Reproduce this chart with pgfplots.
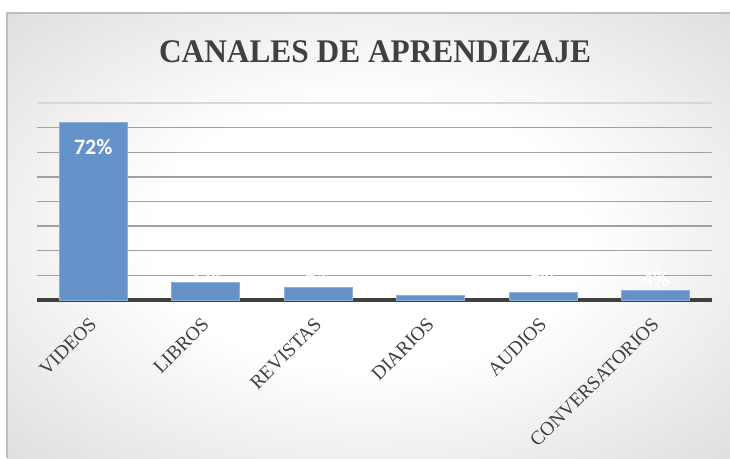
\documentclass[border=0pt]{standalone}
\usepackage{pgfplots}
\pgfplotsset{compat=1.18}
\usepackage{fontspec}
\setmainfont{Liberation Serif}
\newfontfamily\labelfont{Carlito}
\definecolor{barfill}{RGB}{101,146,200}
\definecolor{baredge}{RGB}{140,176,220}
\definecolor{txt}{RGB}{64,64,64}
\definecolor{gridc}{RGB}{160,160,160}
\definecolor{gridtop}{RGB}{215,215,215}
\definecolor{bgout}{RGB}{200,200,200}
\definecolor{bgout2}{RGB}{186,186,186}
\definecolor{framec}{RGB}{190,190,190}
\pgfdeclareradialshading{bgshade}{\pgfpoint{0bp}{0bp}}{color(0bp)=(white); color(15bp)=(white); color(50bp)=(bgout); color(72bp)=(bgout2)}
\begin{document}
\begin{tikzpicture}
\useasboundingbox (0,0) rectangle (730pt,458pt);
\fill[white] (0,0) rectangle (730pt,458pt);
\shade[shading=bgshade] (7pt,0) rectangle (730pt,445pt);
\draw[framec, line width=1.5pt] (7pt,0) -- (7pt,445pt) -- (730pt,445pt);
\node[text=txt, font=\fontsize{33}{36}\selectfont\bfseries, xscale=0.95] at (375pt,406pt) {CANALES DE APRENDIZAJE};
\begin{axis}[
  at={(37pt,158pt)}, anchor=south west,
  width=675pt, height=197pt, scale only axis,
  xmin=-0.5, xmax=5.5, ymin=0, ymax=80,
  clip=false,
  /pgf/number format/assume math mode=true,
  axis x line*=bottom, axis y line*=left,
  x axis line style={line width=3.5pt, color=txt, -},
  y axis line style={draw=none},
  ytick={10,20,...,70}, yticklabels={},
  ytick style={draw=none},
  ymajorgrids,
  major grid style={gridc, line width=1.3pt},
  extra y ticks={80}, extra y tick labels={},
  extra y tick style={major grid style={gridtop, line width=1.3pt}, tick style={draw=none}},
  xtick={0,...,5},
  xticklabels={VIDEOS, LIBROS, REVISTAS, DIARIOS, AUDIOS, CONVERSATORIOS},
  xtick style={draw=none},
  xticklabel style={font=\fontsize{19.5}{21}\selectfont, text=txt, rotate=45, anchor=east, inner sep=0pt, xshift=0pt},
  xticklabel shift=21pt,
]
\addplot[ybar, bar width=68pt, bar shift=0pt, fill=barfill, draw=baredge, line width=1pt,
  nodes near coords={\pgfmathprintnumber{\pgfplotspointmeta}\%},
  nodes near coords style={text=white, font=\labelfont\bfseries\fontsize{22}{24}\selectfont, anchor=north, yshift=-13pt}]
  coordinates {(0,72)};
\addplot[ybar, bar width=68pt, bar shift=0pt, fill=barfill, draw=baredge, line width=1pt,
  nodes near coords={\pgfmathprintnumber{\pgfplotspointmeta}\%},
  nodes near coords style={text=white, font=\labelfont\bfseries\fontsize{22}{24}\selectfont, anchor=south, yshift=0pt}]
  coordinates {(1,7) (2,5) (3,2) (4,3) (5,4)};
\end{axis}
\end{tikzpicture}
\end{document}
